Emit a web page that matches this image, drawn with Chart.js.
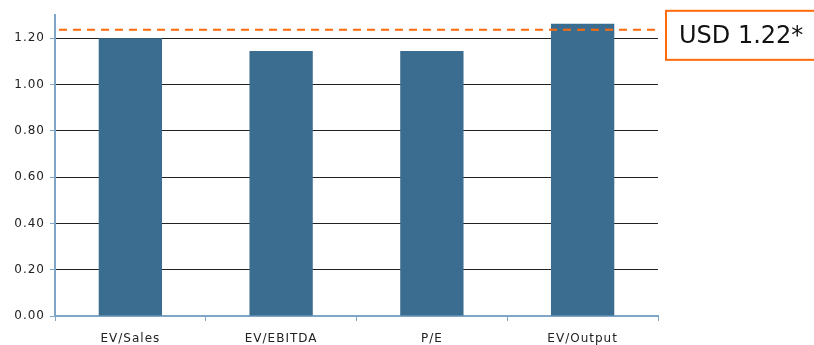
<!DOCTYPE html>
<html>
<head>
<meta charset="utf-8">
<script src="https://cdn.jsdelivr.net/npm/chart.js@4.4.1/dist/chart.umd.min.js"></script>
<style>
  html, body { margin: 0; padding: 0; background: #fff; }
  #wrap { width: 814px; height: 345px; }
</style>
</head>
<body>
<div id="wrap"><canvas id="chart"></canvas></div>
<script>
const CATEGORIES = ['EV/Sales', 'EV/EBITDA', 'P/E', 'EV/Output'];
const MULTIPLES  = [1.20, 1.145, 1.145, 1.262];
const TARGET     = 1.236;
const TARGET_LABEL = 'USD 1.22*';
const Y_MAX = 1.3;

const BAR_COLOR  = '#3a6d8f';
const AXIS_COLOR = '#7fa6c6';
const ORANGE     = '#ff6a0d';
const FONT = '"DejaVu Sans", Verdana, sans-serif';

// the source chart has loosely spaced tick text
const spacingPlugin = {
  id: 'spacing',
  beforeDraw(chart) { chart.ctx.letterSpacing = '1px'; },
};

const targetPlugin = {
  id: 'target',
  afterDatasetsDraw(chart) {
    const { ctx, chartArea, scales } = chart;
    const y = scales.y.getPixelForValue(TARGET);
    ctx.save();
    ctx.strokeStyle = ORANGE;
    ctx.lineWidth = 2;
    ctx.setLineDash([8, 6]);
    ctx.beginPath();
    ctx.moveTo(chartArea.left + 4, y);
    ctx.lineTo(chartArea.right, y);
    ctx.stroke();

    // callout box on the right
    ctx.setLineDash([]);
    const bx = chartArea.right + 8;
    const by = y - 19;
    ctx.strokeRect(bx, by, 170, 49);
    ctx.letterSpacing = '0px';
    ctx.fillStyle = '#111';
    ctx.font = '24px ' + FONT;
    ctx.textBaseline = 'middle';
    ctx.fillText(TARGET_LABEL, bx + 13, by + 26);
    ctx.restore();
  },
};

new Chart(document.getElementById('chart').getContext('2d'), {
  type: 'bar',
  data: {
    labels: CATEGORIES,
    datasets: [{
      data: MULTIPLES,
      backgroundColor: BAR_COLOR,
      borderWidth: 0,
      barPercentage: 0.42,
      categoryPercentage: 1,
    }],
  },
  options: {
    responsive: true, maintainAspectRatio: false,
    animation: false,
    layout: { padding: { left: 0, right: 156, top: 15, bottom: 0 } },
    plugins: { legend: { display: false }, tooltip: { enabled: false } },
    scales: {
      x: {
        grid: { drawOnChartArea: false, offset: true, tickLength: 5, tickColor: AXIS_COLOR },
        border: { color: AXIS_COLOR, width: 2 },
        ticks: { color: '#222', font: { family: FONT, size: 12 }, padding: 11, maxRotation: 0 },
        afterFit: s => { s.height = 29; },
      },
      y: {
        min: 0, max: Y_MAX,
        grid: { color: '#222', lineWidth: 1, tickLength: 5, tickColor: AXIS_COLOR },
        border: { color: AXIS_COLOR, width: 2 },
        ticks: {
          stepSize: 0.2,
          color: '#222',
          font: { family: FONT, size: 12 },
          padding: 5,
          callback: v => v.toFixed(2),
        },
        afterBuildTicks: s => {
          s.ticks = s.ticks.filter(t => Math.abs(t.value * 5 - Math.round(t.value * 5)) < 1e-6);
        },
        afterFit: s => { s.width = 55; },
      },
    },
  },
  plugins: [spacingPlugin, targetPlugin],
});
</script>
</body>
</html>
